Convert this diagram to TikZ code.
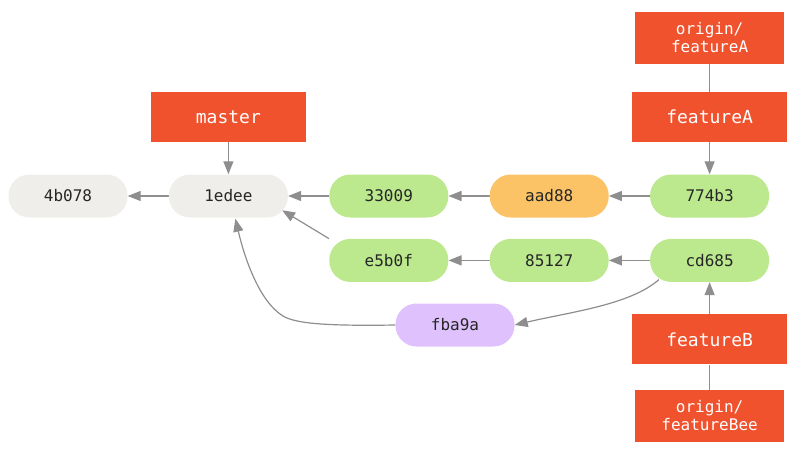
\documentclass[tikz,border=0pt]{standalone}
\usepackage{fontspec}
\setmonofont{DejaVu Sans Mono}
\usetikzlibrary{calc,positioning,arrows.meta}
\pgfdeclarelayer{background}
\pgfsetlayers{background,main}
\definecolor{gitred}{HTML}{F0522E}
\definecolor{oldgray}{HTML}{EFEEEA}
\definecolor{newgreen}{HTML}{BCE88E}
\definecolor{movedorange}{HTML}{FBC266}
\definecolor{lostpurple}{HTML}{DFC2FD}
\definecolor{linegray}{HTML}{8E8E8E}

\begin{document}
\begin{tikzpicture}[x=1pt,y=-1pt,
  commit/.style={rounded corners=21pt,minimum width=119pt,minimum height=43pt,
    inner sep=0pt,text=black!85,font=\ttfamily\fontsize{16}{18}\selectfont},
  branch/.style={fill=gitred,text=white,minimum width=155pt,minimum height=50pt,
    inner sep=0pt,font=\ttfamily\fontsize{18}{20}\selectfont},
  remote/.style={fill=gitred,text=white,minimum width=149pt,minimum height=52pt,
    inner sep=0pt,align=center,font=\ttfamily\fontsize{16}{18}\selectfont},
  parent/.style={draw=linegray,line width=1.2pt,-{Triangle[length=13pt,width=10pt]}},
  tie/.style={draw=linegray,line width=1.2pt}]
  \useasboundingbox (0,0) rectangle (800,451);
  % commits, upper row
  \node [commit,fill=oldgray] at (68,196) (c4b078) {4b078};
  \node [commit,fill=oldgray,right=41pt of c4b078] (c1edee) {1edee};
  \node [commit,fill=newgreen,right=41pt of c1edee] (c33009) {33009};
  \node [commit,fill=movedorange,right=41pt of c33009] (caad88) {aad88};
  \node [commit,fill=newgreen,right=41pt of caad88] (c774b3) {774b3};
  % commits, lower row
  \node [commit,fill=newgreen,below=21pt of c33009] (ce5b0f) {e5b0f};
  \node [commit,fill=newgreen,right=41pt of ce5b0f] (c85127) {85127};
  \node [commit,fill=newgreen,right=41pt of c85127] (ccd685) {cd685};
  \node [commit,fill=lostpurple] at (455,325) (cfba9a) {fba9a};
  % branches
  \node [branch,above=32pt of c1edee] (master) {master};
  \node [branch,above=32pt of c774b3] (featureA) {featureA};
  \node [remote,above=28pt of featureA] (originA) {origin/\\featureA};
  \node [branch,below=32pt of ccd685] (featureB) {featureB};
  \node [remote,below=25pt of featureB] (originB) {origin/\\featureBee};
  % history
  \coordinate (tip e5b0f) at ($(c1edee.south east)+(-6,-7.5)$);
  \coordinate (tip fba9a) at ($(c1edee.south)+(7,1)$);
  \coordinate (bend fba9a) at (283,316);
  \begin{pgfonlayer}{background}
    \draw [parent] (c1edee) -- (c4b078);
    \draw [parent] (c33009) -- (c1edee);
    \draw [parent] (caad88) -- (c33009);
    \draw [parent] (c774b3) -- (caad88);
    \draw [parent] (c85127) -- (ce5b0f);
    \draw [parent] (ccd685) -- (c85127);
    \draw [parent] (ce5b0f.north west) -- (tip e5b0f);
    \draw [parent]
      ($(ccd685.south west)+(9,-2.5)$)
      .. controls (630,305) and (570,312) ..
      (cfba9a.east)
    ;
    \draw [parent]
      (cfba9a.west)
      .. controls (330,326) and (296,324) ..
      (bend fba9a)
      .. controls (260,302) and (245,260) ..
      (tip fba9a)
    ;
    % refs
    \draw [parent] (master) -- (c1edee);
    \draw [parent] (featureA) -- (c774b3);
    \draw [parent] (featureB) -- (ccd685);
    \draw [tie] (originA) -- (featureA);
    \draw [tie] (originB) -- (featureB);
  \end{pgfonlayer}
\end{tikzpicture}
\end{document}
